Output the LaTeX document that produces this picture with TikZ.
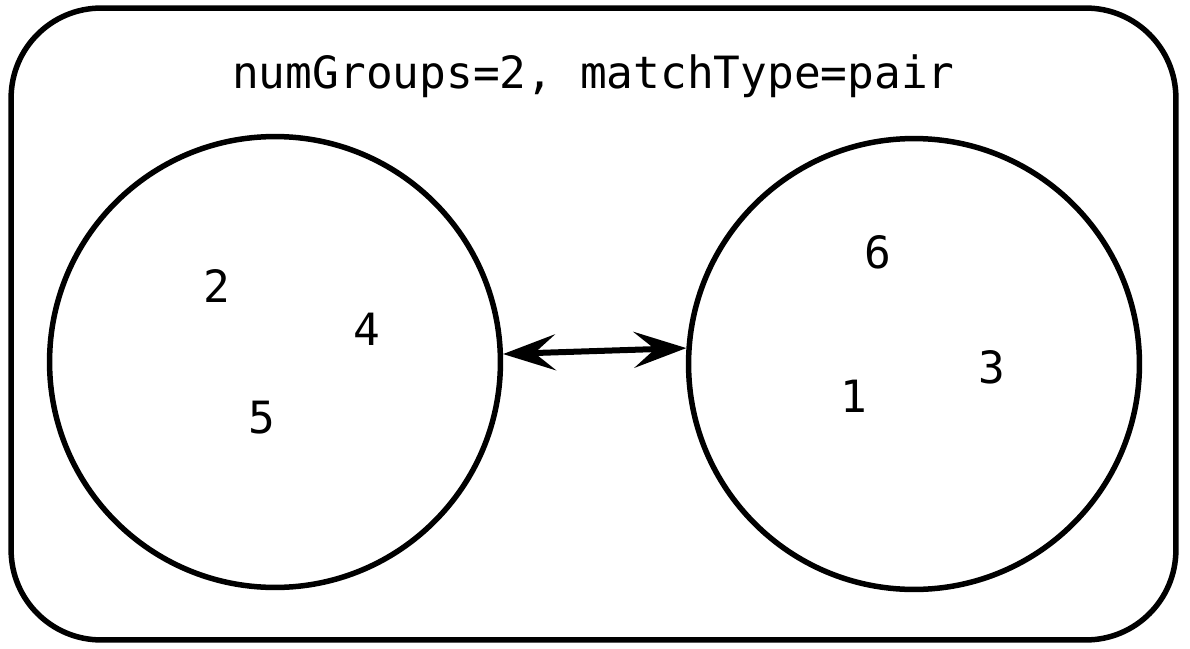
\documentclass[tikz,border=0pt]{standalone}
\usepackage{fontspec}
\setmonofont{DejaVu Sans Mono}
\usetikzlibrary{arrows.meta}
\tikzset{
  frame/.style = {rectangle, rounded corners=1.8cm, draw=black, line width=0.11cm, minimum width=23.3cm, minimum height=12.64cm},
  title/.style = {font=\ttfamily\fontsize{25.3}{30}\selectfont, anchor=base, inner sep=0pt},
  group/.style = {circle, draw=black, line width=0.11cm, minimum size=9.02cm},
  member/.style = {font=\ttfamily\fontsize{25.3}{30}\selectfont, anchor=base, inner sep=0pt}
}

\begin{document}
\begin{tikzpicture}[x=0.02cm, y=-0.02cm]
  \useasboundingbox (0,0) rectangle (1190,649);

  % Outer frame and title
  \node (frame) [frame] at (593.5,324) {};
  \node (title) [title] at (593.5,88) {numGroups=2, matchType=pair};

  % Groups
  \node (groupA) [group] at (275,362) {};
  \node (groupB) [group] at (914,364) {};

  % Members of the groups
  \node (m2) [member] at (217,302) {2};
  \node (m4) [member] at (367,345) {4};
  \node (m5) [member] at (262,433) {5};
  \node (m6) [member] at (878,268) {6};
  \node (m3) [member] at (992,383) {3};
  \node (m1) [member] at (854,412) {1};

  % Connecting groups
  \draw[{Stealth[length=1.05cm, width=0.72cm, inset=0.42cm]}-{Stealth[length=1.05cm, width=0.72cm, inset=0.42cm]}, line width=0.12cm, black] (groupA.2.5) -- (groupB.176.2);
\end{tikzpicture}
\end{document}
